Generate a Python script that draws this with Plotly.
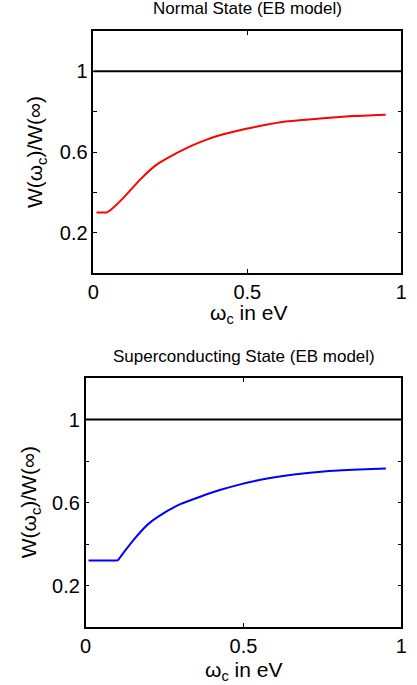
import plotly.graph_objects as go

# ---- data ----
normal_x = [0.01, 0.044, 0.057, 0.099, 0.151, 0.199, 0.246, 0.309, 0.372, 0.435,
            0.496, 0.536, 0.631, 0.736, 0.841, 0.949]
normal_y = [0.30, 0.30, 0.314, 0.375, 0.462, 0.530, 0.574, 0.624, 0.664, 0.693,
            0.715, 0.728, 0.752, 0.766, 0.778, 0.785]

super_x = [0.009, 0.1015, 0.127, 0.158, 0.199, 0.250, 0.3015, 0.363, 0.425, 0.484,
           0.558, 0.660, 0.763, 0.866, 0.951]
super_y = [0.32, 0.32, 0.372, 0.431, 0.497, 0.551, 0.593, 0.628, 0.660, 0.685,
           0.711, 0.735, 0.751, 0.759, 0.764]

ref_x = [0.0, 1.0]
ref_y = [1.0, 1.0]

x_ticks = [0, 0.5, 1]
x_ticktext = ["0", "0.5", "1"]
y_ticks = [0.2, 0.6, 1.0]
y_ticktext = ["0.2", "0.6", "1"]
y_minor_step = 0.2

titles = ["Normal State (EB model)", "Superconducting State (EB model)"]
xlabel = "ω<sub>c</sub> in eV"
ylabel = "W(ω<sub>c</sub>)/W(∞)"

W, H = 417, 685
FONT = "Liberation Sans, Arial, sans-serif"


def px(x):
    return x / W


def py(y):
    return 1 - y / H


fig = go.Figure()


def add_curve(xs, ys, color, xa, ya):
    # flat onset segment (straight), then the smooth rising part
    fig.add_trace(go.Scatter(x=xs[:2], y=ys[:2], mode="lines",
                             line=dict(color=color, width=2),
                             xaxis=xa, yaxis=ya, showlegend=False))
    fig.add_trace(go.Scatter(x=xs[1:], y=ys[1:], mode="lines",
                             line=dict(color=color, width=2, shape="spline", smoothing=0.5),
                             xaxis=xa, yaxis=ya, showlegend=False))


fig.add_trace(go.Scatter(x=ref_x, y=ref_y, mode="lines", line=dict(color="black", width=2),
                         xaxis="x", yaxis="y", showlegend=False))
add_curve(normal_x, normal_y, "#ff0000", "x", "y")
fig.add_trace(go.Scatter(x=ref_x, y=ref_y, mode="lines", line=dict(color="black", width=2),
                         xaxis="x2", yaxis="y2", showlegend=False))
add_curve(super_x, super_y, "#0000ff", "x2", "y2")

common_x = dict(range=[0, 1], tickvals=x_ticks, ticktext=x_ticktext, ticks="inside", ticklen=4,
                tickcolor="black", showline=True, linecolor="black", linewidth=1.5, mirror="ticks",
                showgrid=False, zeroline=False, tickfont=dict(size=20, color="black", family=FONT))
common_y = dict(range=[0, 1.2], tickvals=y_ticks, ticktext=y_ticktext, ticks="inside", ticklen=4,
                tickcolor="black", showline=True, linecolor="black", linewidth=1.5, mirror="ticks",
                showgrid=False, zeroline=False, tickfont=dict(size=20, color="black", family=FONT),
                minor=dict(tick0=0, dtick=y_minor_step, ticks="inside", ticklen=4, tickcolor="black",
                           showgrid=False))

fig.update_layout(
    width=W, height=H,
    margin=dict(l=0, r=0, t=0, b=0),
    paper_bgcolor="white", plot_bgcolor="white",
    font=dict(family=FONT, color="black"),
    xaxis=dict(domain=[px(90), px(407)], anchor="y", **common_x),
    yaxis=dict(domain=[py(273), py(31)], anchor="x", **common_y),
    xaxis2=dict(domain=[px(82), px(407)], anchor="y2", **common_x),
    yaxis2=dict(domain=[py(627), py(378)], anchor="x2", **common_y),
)

ann = []
# titles
ann.append(dict(text=titles[0], x=px(249), y=py(8), xref="paper", yref="paper",
                showarrow=False, xanchor="center", yanchor="middle", font=dict(size=17)))
ann.append(dict(text=titles[1], x=px(245), y=py(356), xref="paper", yref="paper",
                showarrow=False, xanchor="center", yanchor="middle", font=dict(size=17)))
# x labels
ann.append(dict(text=xlabel, x=px(250), y=py(314), xref="paper", yref="paper",
                showarrow=False, xanchor="center", yanchor="middle", font=dict(size=21)))
ann.append(dict(text=xlabel, x=px(245), y=py(671), xref="paper", yref="paper",
                showarrow=False, xanchor="center", yanchor="middle", font=dict(size=21)))
# y labels
ann.append(dict(text=ylabel, x=px(31), y=py(152), xref="paper", yref="paper", textangle=-90,
                showarrow=False, xanchor="center", yanchor="middle", font=dict(size=21)))
ann.append(dict(text=ylabel, x=px(25), y=py(502), xref="paper", yref="paper", textangle=-90,
                showarrow=False, xanchor="center", yanchor="middle", font=dict(size=21)))
fig.update_layout(annotations=ann)

fig.write_html("out.html")
